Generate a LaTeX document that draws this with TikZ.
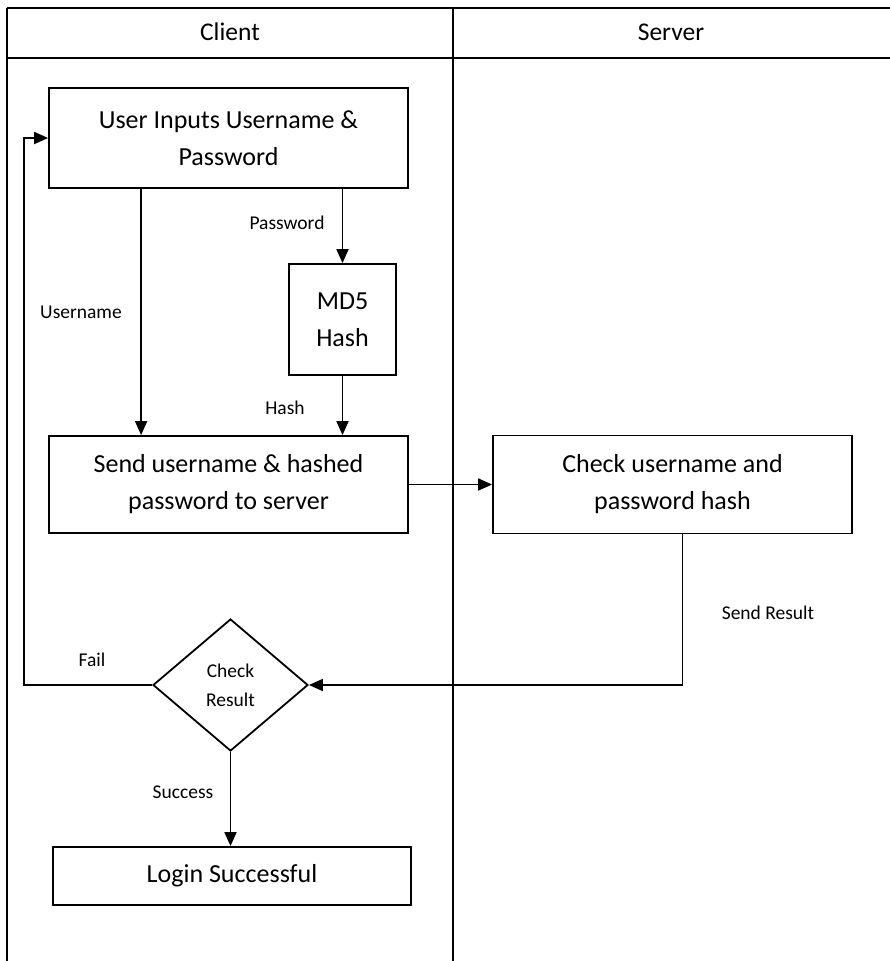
\documentclass[tikz,border=0pt]{standalone}
\usepackage{fontspec}
\setmainfont{Carlito}
\usepackage{tikz}
\usetikzlibrary{positioning, shapes.geometric, arrows.meta}

\begin{document}
\begin{tikzpicture}[
    x=1pt, y=-1pt,
    line width=1.8pt,
    box/.style={rectangle, draw, align=center, inner sep=0pt, font=\fontsize{26}{37}\selectfont},
    decision/.style={diamond, draw, align=center, inner sep=0pt, minimum width=155pt, minimum height=132pt, font=\fontsize{19.5}{29}\selectfont},
    lanetitle/.style={font=\fontsize{25.5}{30}\selectfont},
    edgetext/.style={font=\fontsize{19.5}{22}\selectfont},
    flow/.style={-{Triangle[length=14pt, width=12pt]}}
]

\useasboundingbox (0,0) rectangle (890,961);

% swimlanes
\draw (7,8) -- (890,8);
\draw (7,58) -- (890,58);
\draw (7,8) -- (7,961);
\draw (453,8) -- (453,961);
\node[lanetitle] (client) at (230,32) {Client};
\node[lanetitle] (server) at (671,32) {Server};

\node[box, minimum width=359pt, minimum height=100pt] (input) at (228.5,138) {User Inputs Username \&\\Password};
\node[box, minimum width=107pt, minimum height=111pt] (md5) at (342.5,319.5) {MD5\\Hash};
\node[box, minimum width=359pt, minimum height=97pt] (send) at (228.5,484.5) {Send username \& hashed\\password to server};
\node[box, minimum width=359pt, minimum height=98pt] (check) at (672.5,484.5) {Check username and\\password hash};
\node[decision] (result) at (230.5,685) {Check\\Result};
\node[box, minimum width=358pt, minimum height=58pt] (login) at (232,876) {Login Successful};

\coordinate (back) at (24,685);

\draw[flow] ([xshift=93pt]input.south west) -- ([xshift=93pt]send.north west);
\draw[flow] (md5.north |- input.south) -- (md5.north);
\draw[flow] (md5.south) -- (md5.south |- send.north);
\draw[flow] (send.east) -- (check.west);
\draw[flow] ([xshift=10pt]check.south) |- (result.east);
\draw[flow] (result.west) -- (back) |- (input.west);
\draw[flow] (result.south) -- (result.south |- login.north);

\node[edgetext] (pwtext) at (287,223) {Password};
\node[edgetext] (untext) at (81,312) {Username};
\node[edgetext] (hashtext) at (285,408) {Hash};
\node[edgetext] (failtext) at (92,660) {Fail};
\node[edgetext] (oktext) at (183,792) {Success};
\node[edgetext] (restext) at (768,613) {Send Result};

\end{tikzpicture}
\end{document}
